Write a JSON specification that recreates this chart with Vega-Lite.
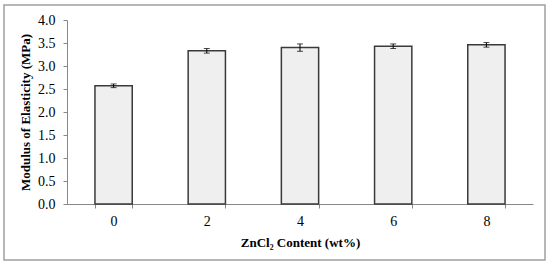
{
  "$schema": "https://vega.github.io/schema/vega-lite/v6.json",
  "width": 541,
  "height": 255,
  "autosize": {"type": "none"},
  "padding": {"left": 4, "top": 5, "right": 5, "bottom": 6},
  "background": "white",
  "config": {
    "view": {"stroke": "#a0a0a0", "strokeWidth": 1.5},
    "font": "Liberation Serif",
    "axis": {"grid": false, "tickSize": 4, "tickColor": "#888888", "domainColor": "#888888",
             "labelFontSize": 14, "labelColor": "black",
             "titleFontSize": 13, "titleFontWeight": "bold", "titleColor": "black"},
    "axisY": {"labelOverlap": false, "labelFlush": false, "labelPadding": 8, "titlePadding": 5},
    "axisX": {"labelPadding": 6, "titlePadding": 8}
  },
  "data": {
    "values": [
      {"content": "0", "modulus": 2.57, "lo": 2.53, "hi": 2.61},
      {"content": "2", "modulus": 3.33, "lo": 3.28, "hi": 3.38},
      {"content": "4", "modulus": 3.40, "lo": 3.32, "hi": 3.48},
      {"content": "6", "modulus": 3.43, "lo": 3.38, "hi": 3.48},
      {"content": "8", "modulus": 3.46, "lo": 3.41, "hi": 3.51}
    ]
  },
  "layer": [
    {
      "mark": {"type": "bar", "fill": "#efefef", "stroke": "#3a3a3a", "strokeWidth": 1.5},
      "encoding": {
        "x": {
          "field": "content", "type": "ordinal", "sort": null,
          "scale": {"range": [63, 529], "paddingInner": 0.6, "paddingOuter": 0.3},
          "axis": {"title": "ZnCl₂ Content (wt%)", "labelAngle": 0, "offset": -56, "tickBand": "extent"}
        },
        "y": {
          "field": "modulus", "type": "quantitative",
          "scale": {"domain": [0, 4], "range": [199, 15], "nice": false},
          "axis": {"title": "Modulus of Elasticity (MPa)", "offset": -63,
                   "values": [0, 0.5, 1, 1.5, 2, 2.5, 3, 3.5, 4], "format": ".1f"}
        }
      }
    },
    {
      "mark": {"type": "rule", "color": "black", "strokeWidth": 1},
      "encoding": {
        "x": {"field": "content", "type": "ordinal", "sort": null,
              "axis": {"title": "ZnCl₂ Content (wt%)", "labelAngle": 0, "offset": -56, "tickBand": "extent"}},
        "y": {"field": "lo", "type": "quantitative",
              "axis": {"title": "Modulus of Elasticity (MPa)", "offset": -63,
                       "values": [0, 0.5, 1, 1.5, 2, 2.5, 3, 3.5, 4], "format": ".1f"}},
        "y2": {"field": "hi"}
      }
    },
    {
      "mark": {"type": "tick", "color": "black", "size": 6, "thickness": 1},
      "encoding": {
        "x": {"field": "content", "type": "ordinal", "sort": null,
              "axis": {"title": "ZnCl₂ Content (wt%)", "labelAngle": 0, "offset": -56, "tickBand": "extent"}},
        "y": {"field": "lo", "type": "quantitative",
              "axis": {"title": "Modulus of Elasticity (MPa)", "offset": -63,
                       "values": [0, 0.5, 1, 1.5, 2, 2.5, 3, 3.5, 4], "format": ".1f"}}
      }
    },
    {
      "mark": {"type": "tick", "color": "black", "size": 6, "thickness": 1},
      "encoding": {
        "x": {"field": "content", "type": "ordinal", "sort": null,
              "axis": {"title": "ZnCl₂ Content (wt%)", "labelAngle": 0, "offset": -56, "tickBand": "extent"}},
        "y": {"field": "hi", "type": "quantitative",
              "axis": {"title": "Modulus of Elasticity (MPa)", "offset": -63,
                       "values": [0, 0.5, 1, 1.5, 2, 2.5, 3, 3.5, 4], "format": ".1f"}}
      }
    }
  ]
}
